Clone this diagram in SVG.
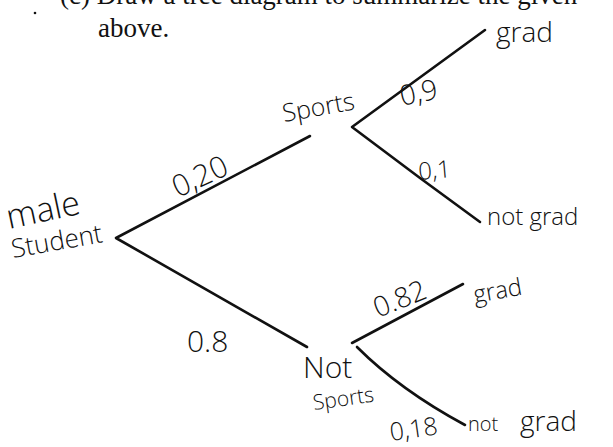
<svg xmlns="http://www.w3.org/2000/svg" width="613" height="447" viewBox="0 0 613 447">
<style>
.print{font-family:"Liberation Serif","Times New Roman",serif;fill:#111}
.hand{font-family:"Open Sans","DejaVu Sans",sans-serif;font-weight:300;fill:#111}
.edge{fill:none;stroke:#111;stroke-width:2.6;stroke-linecap:round;stroke-linejoin:round}
</style>
<rect width="613" height="447" fill="#fff"/>
<g id="header">
<text class="print" x="60" y="4" font-size="27">(c) Draw a tree diagram to summarize the given</text>
<text class="print" x="98" y="37" font-size="27">above.</text>
<circle cx="35" cy="13" r="1.3" fill="#111"/>
</g>
<g id="connectors">
<path class="edge" d="M310,136 L116,238 L307,347"/>
<path class="edge" d="M485,30 L352,127 L420,178 L480,222"/>
<path class="edge" d="M463,284 L352,343"/>
<path class="edge" d="M357,347 Q400,390 465,425"/>
</g>
<g id="root">
<text class="hand" x="9" y="229" font-size="34" transform="rotate(-12 9 229)">male</text>
<text class="hand" x="13" y="258" font-size="26" transform="rotate(-10 13 258)">Student</text>
</g>
<g id="sports">
<text class="hand" x="284" y="122" font-size="25" transform="rotate(-10 284 122)">Sports</text>
</g>
<g id="notsports">
<text class="hand" x="303" y="378" font-size="30">Not</text>
<text class="hand" x="314" y="410" font-size="21" transform="rotate(-8 314 410)">Sports</text>
</g>
<g id="grad1">
<text class="hand" x="496" y="42" font-size="28">grad</text>
</g>
<g id="notgrad1">
<text class="hand" x="487" y="225" font-size="24">not grad</text>
</g>
<g id="grad2">
<text class="hand" x="475" y="303" font-size="24" transform="rotate(-10 475 303)">grad</text>
</g>
<g id="notgrad2">
<text class="hand" x="468" y="431" font-size="20">not</text>
<text class="hand" x="520" y="431" font-size="28">grad</text>
</g>
<g id="labels">
<text class="hand" x="178" y="198" font-size="30" transform="rotate(-25 178 198)">0,20</text>
<text class="hand" x="402" y="106" font-size="28" transform="rotate(-12 402 106)">0,9</text>
<text class="hand" x="419" y="180" font-size="24" transform="rotate(-5 419 180)">0,1</text>
<text class="hand" x="187" y="352" font-size="30">0.8</text>
<text class="hand" x="378" y="318" font-size="28" transform="rotate(-22 378 318)">0.82</text>
<text class="hand" x="391" y="441" font-size="25" transform="rotate(-8 391 441)">0,18</text>
</g>
</svg>
